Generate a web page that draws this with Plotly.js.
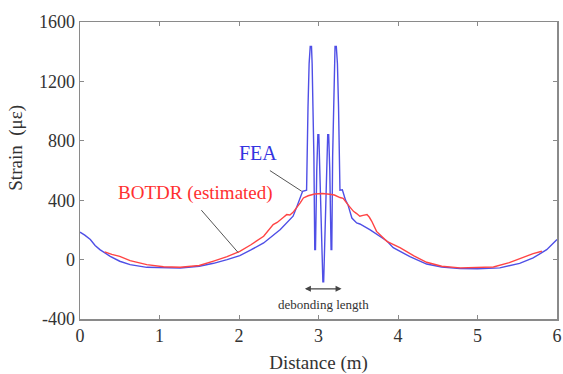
<!DOCTYPE html>
<html>
<head>
<meta charset="utf-8">
<script src="https://cdn.plot.ly/plotly-3.0.1.min.js"></script>
<style>html,body{margin:0;padding:0;background:#fff;}#chart{width:563px;height:374px;}</style>
</head>
<body>
<div id="chart"></div>
<script>
// FEA (blue) distance (m) and strain (με)
const feaX = [0, 0.06, 0.13, 0.19, 0.25, 0.38, 0.5, 0.63, 0.84, 1.05, 1.26, 1.5, 1.68, 1.85, 2.01, 2.15, 2.31, 2.52, 2.68, 2.73, 2.77, 2.80,
  2.850, 2.855, 2.868, 2.882, 2.896, 2.912, 2.920, 2.930, 2.942, 2.953, 2.962, 2.978, 2.992, 3.004, 3.016, 3.030, 3.045, 3.055, 3.065,
  3.075, 3.090, 3.104, 3.116, 3.128, 3.142, 3.158, 3.167, 3.178, 3.190, 3.200, 3.208, 3.224, 3.238, 3.252, 3.265, 3.270,
  3.30, 3.34, 3.37, 3.42, 3.48, 3.52, 3.65, 3.77, 3.86, 3.94, 4.03, 4.15, 4.36, 4.55, 4.78, 5.0, 5.28, 5.53, 5.70, 5.87, 6.0];
const feaY = [185, 165, 135, 95, 67, 22, -11, -34, -52, -56, -57, -45, -25, 0, 27, 65, 112, 202, 292, 360, 415, 460,
  467, 760, 1030, 1320, 1436, 1436, 1320, 1030, 700, 67, 67, 600, 841, 841, 600, 300, 50, -150, -150,
  50, 300, 600, 841, 841, 600, 67, 67, 700, 1030, 1320, 1436, 1436, 1320, 1030, 760, 467,
  470, 400, 370, 280, 247, 240, 200, 160, 125, 80, 55, 20, -30, -50, -60, -62, -56, -25, 11, 67, 135];

// BOTDR (estimated, red)
const botdrX = [0.31, 0.4, 0.5, 0.63, 0.84, 1.05, 1.26, 1.5, 1.68, 1.85, 2.01, 2.15, 2.31, 2.43, 2.48, 2.52, 2.56, 2.6, 2.64, 2.68, 2.72, 2.77, 2.81, 2.87, 2.95, 3.05, 3.14, 3.2, 3.27, 3.31, 3.37, 3.44, 3.48, 3.52, 3.56, 3.61, 3.64, 3.67, 3.73, 3.80, 3.86, 4.03, 4.2, 4.36, 4.55, 4.78, 5.0, 5.2, 5.4, 5.53, 5.62, 5.7, 5.81];
const botdrY = [52, 35, 22, -7, -34, -48, -52, -40, -10, 20, 56, 100, 157, 236, 250, 270, 285, 303, 300, 318, 345, 382, 415, 430, 442, 445, 440, 435, 418, 412, 370, 325, 310, 292, 298, 303, 285, 258, 190, 150, 123, 79, 25, -18, -45, -56, -55, -50, -20, 5, 27, 40, 56];

const xTicks = [0, 1, 2, 3, 4, 5, 6];
const yTicks = [-400, 0, 400, 800, 1200, 1600];

const font = 'Liberation Serif';

const traces = [
  {x: feaX, y: feaY, mode: 'lines', name: 'FEA', line: {color: '#4f4fe6', width: 1.4}},
  {x: botdrX, y: botdrY, mode: 'lines', name: 'BOTDR (estimated)', line: {color: '#ff4444', width: 1.4}}
];

const axisCommon = {
  showgrid: false, zeroline: false, showline: true, mirror: 'ticks',
  linecolor: '#8a8a8a', linewidth: 1.5, ticks: 'inside', ticklen: 4, tickcolor: '#8a8a8a', tickwidth: 1,
  tickfont: {family: font, size: 18, color: '#333'}
};

const layout = {
  width: 563, height: 374,
  margin: {l: 80, r: 6, t: 22, b: 55},
  paper_bgcolor: '#fff', plot_bgcolor: '#fff',
  showlegend: false,
  font: {family: font, color: '#333'},
  xaxis: Object.assign({}, axisCommon, {range: [0, 6], tickvals: xTicks, ticktext: xTicks.map(String),
    title: {text: 'Distance (m)', font: {family: font, size: 19, color: '#333'}, standoff: 10}}),
  yaxis: Object.assign({}, axisCommon, {range: [-400, 1600], tickvals: yTicks, ticktext: yTicks.map(String)}),
  annotations: [
    {xref: 'paper', yref: 'paper', x: -0.134, y: 0.577, text: 'Strain  (με)', textangle: -90, showarrow: false,
     font: {family: font, size: 19, color: '#333'}, xanchor: 'center', yanchor: 'middle'},
    {x: 2.24, y: 720, text: 'FEA', showarrow: false, font: {family: font, size: 20, color: '#3434e0'}},
    {x: 1.45, y: 451, text: 'BOTDR (estimated)', showarrow: false, font: {family: font, size: 19, color: '#ff3030'}},
    {x: 2.79, y: 460, ax: 2.37, ay: 606, axref: 'x', ayref: 'y', showarrow: true, arrowhead: 0, arrowwidth: 1, arrowcolor: '#555', text: ''},
    {x: 1.99, y: 47, ax: 1.51, ay: 343, axref: 'x', ayref: 'y', showarrow: true, arrowhead: 0, arrowwidth: 1, arrowcolor: '#555', text: ''},
    {x: 3.29, y: -197, ax: 2.81, ay: -197, axref: 'x', ayref: 'y', showarrow: true, arrowhead: 2, startarrowhead: 2, arrowside: 'end+start', arrowsize: 1, arrowwidth: 1.2, arrowcolor: '#444', text: ''},
    {x: 3.06, y: -303, text: 'debonding length', showarrow: false, font: {family: font, size: 13, color: '#333'}}
  ]
};

Plotly.newPlot('chart', traces, layout, {displayModeBar: false, staticPlot: true});
</script>
</body>
</html>
